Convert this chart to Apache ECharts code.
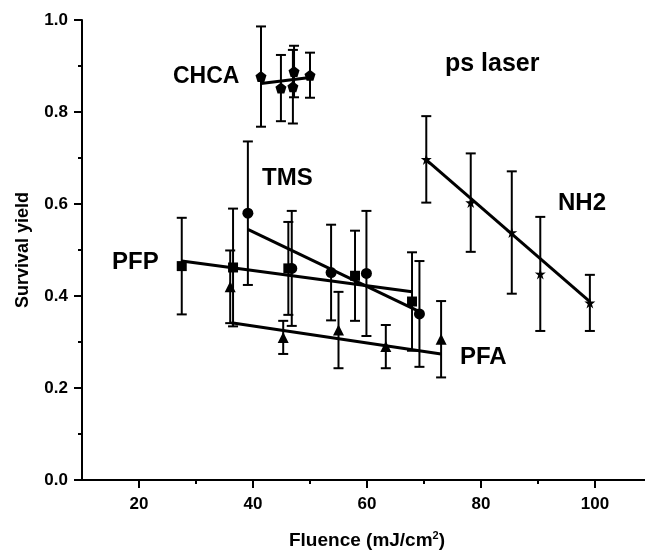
<!DOCTYPE html>
<html>
<head>
<meta charset="utf-8">
<script src="https://cdn.jsdelivr.net/npm/echarts@6/dist/echarts.min.js"></script>
<style>
html,body{margin:0;padding:0;background:#fff;}
#chart{width:645px;height:550px;}
</style>
</head>
<body>
<div id="chart"></div>
<script>
// ---- Data ----
const chcaX = [41.4, 44.9, 47.0, 47.2, 50.0];
const chcaY = [0.877, 0.852, 0.855, 0.888, 0.880];
const chcaErr = [0.109, 0.072, 0.080, 0.056, 0.049];

const pfpX = [27.5, 36.5, 46.2, 57.9, 67.9];
const pfpY = [0.465, 0.462, 0.460, 0.444, 0.388];
const pfpErr = [0.105, 0.128, 0.101, 0.098, 0.107];

const tmsX = [39.1, 46.8, 53.7, 59.9, 69.2];
const tmsY = [0.580, 0.460, 0.451, 0.449, 0.361];
const tmsErr = [0.156, 0.125, 0.104, 0.136, 0.115];

const pfaX = [36.0, 45.3, 55.0, 63.3, 73.0];
const pfaY = [0.420, 0.310, 0.326, 0.290, 0.306];
const pfaErr = [0.079, 0.036, 0.083, 0.047, 0.083];

const nh2X = [70.4, 78.2, 85.4, 90.4, 99.1];
const nh2Y = [0.697, 0.603, 0.538, 0.448, 0.385];
const nh2Err = [0.094, 0.107, 0.133, 0.124, 0.061];

// linear fit lines (end points)
const chcaFitX = [41.4, 50.0], chcaFitY = [0.862, 0.875];
const pfpFitX = [27.5, 67.9], pfpFitY = [0.476, 0.409];
const tmsFitX = [39.1, 69.2], tmsFitY = [0.545, 0.366];
const pfaFitX = [36.2, 73.0], pfaFitY = [0.342, 0.274];
const nh2FitX = [70.4, 99.1], nh2FitY = [0.696, 0.388];

const xMajorTicks = [20, 40, 60, 80, 100];
const xMinorTicks = [30, 50, 70, 90];
const xAxisTitle = 'Fluence (mJ/cm{sup|2})';
const yAxisTitle = 'Survival yield';

// ---- Build ----
const FONT = '"Liberation Sans", Arial, Helvetica, sans-serif';
const pentagon = 'path://M0,-1 L0.951,-0.309 L0.588,0.809 L-0.588,0.809 L-0.951,-0.309 Z';
const star = 'path://M0,-1 L0.2234,-0.3074 L0.9511,-0.309 L0.3614,0.1174 L0.5878,0.809 L0,0.38 L-0.5878,0.809 L-0.3614,0.1174 L-0.9511,-0.309 L-0.2234,-0.3074 Z';

function zip(xs, ys, es) { return xs.map((x, i) => es ? [x, ys[i], es[i]] : [x, ys[i]]); }

function errSeries(xs, ys, es) {
  return {
    type: 'custom', xAxisIndex: 0, yAxisIndex: 0, z: 2,
    data: zip(xs, ys, es),
    encode: { x: 0, y: 1 },
    renderItem: function (params, api) {
      const x = api.value(0), y = api.value(1), e = api.value(2);
      const t = api.coord([x, y + e]);
      const b = api.coord([x, y - e]);
      const hw = 5;
      const st = { stroke: '#000', lineWidth: 2 };
      return {
        type: 'group',
        children: [
          { type: 'line', shape: { x1: t[0], y1: t[1], x2: b[0], y2: b[1] }, style: st },
          { type: 'line', shape: { x1: t[0] - hw, y1: t[1], x2: t[0] + hw, y2: t[1] }, style: st },
          { type: 'line', shape: { x1: b[0] - hw, y1: b[1], x2: b[0] + hw, y2: b[1] }, style: st }
        ]
      };
    }
  };
}
function fitSeries(xs, ys) {
  return {
    type: 'line', xAxisIndex: 0, yAxisIndex: 0, z: 3,
    data: zip(xs, ys), symbol: 'none', silent: true,
    lineStyle: { color: '#000', width: 3 }
  };
}
function markSeries(xs, ys, sym, size) {
  return {
    type: 'scatter', xAxisIndex: 0, yAxisIndex: 0, z: 4,
    data: zip(xs, ys), symbol: sym, symbolSize: size,
    itemStyle: { color: '#000', opacity: 1 }
  };
}

const chart = echarts.init(document.getElementById('chart'), null, { renderer: 'canvas' });
function txt(t, x, y, size) {
  return { type: 'text', x: x, y: y, z: 10, style: { text: t, font: 'bold ' + size + 'px ' + FONT, fill: '#000', verticalAlign: 'middle', align: 'left' } };
}

chart.setOption({
  animation: false,
  backgroundColor: '#fff',
  grid: { left: 82, top: 20, bottom: 70, right: -7, containLabel: false, outerBoundsMode: 'none' },
  xAxis: [{
    type: 'value', min: 10, max: 110,
    name: xAxisTitle, nameLocation: 'middle', nameGap: 50,
    nameTextStyle: { fontFamily: FONT, fontWeight: 'bold', fontSize: 19, color: '#000',
      rich: { sup: { fontFamily: FONT, fontWeight: 'bold', fontSize: 11, color: '#000', padding: [0, 0, 10, 0] } } },
    axisLine: { show: true, onZero: false, lineStyle: { color: '#000', width: 2 } },
    axisTick: { show: true, length: 8, customValues: xMajorTicks, lineStyle: { color: '#000', width: 2 } },
    axisLabel: { customValues: xMajorTicks, margin: 16, fontFamily: FONT, fontWeight: 'bold', fontSize: 17, color: '#000' },
    splitLine: { show: false }
  }, {
    type: 'value', min: 10, max: 110, position: 'bottom', offset: 0,
    axisLine: { show: false },
    axisTick: { show: true, length: 4, customValues: xMinorTicks, lineStyle: { color: '#000', width: 2 } },
    axisLabel: { show: false },
    splitLine: { show: false }
  }],
  yAxis: [{
    type: 'value', min: 0, max: 1, interval: 0.2,
    name: yAxisTitle, nameLocation: 'middle', nameGap: 50, nameRotate: 90,
    nameTextStyle: { fontFamily: FONT, fontWeight: 'bold', fontSize: 18, color: '#000' },
    axisLine: { show: true, onZero: false, lineStyle: { color: '#000', width: 2 } },
    axisTick: { show: true, length: 8, lineStyle: { color: '#000', width: 2 } },
    minorTick: { show: true, splitNumber: 2, length: 4, lineStyle: { color: '#000', width: 2 } },
    axisLabel: { margin: 14, fontFamily: FONT, fontWeight: 'bold', fontSize: 17, color: '#000', formatter: v => v.toFixed(1) },
    splitLine: { show: false }, minorSplitLine: { show: false }
  }],
  graphic: [
    txt('CHCA', 173, 77, 23),
    txt('ps laser', 445, 64, 25),
    txt('TMS', 262, 178, 24),
    txt('NH2', 558, 203, 24),
    txt('PFP', 112, 262, 24),
    txt('PFA', 460, 357, 24)
  ],
  series: [
    errSeries(chcaX, chcaY, chcaErr),
    errSeries(pfpX, pfpY, pfpErr),
    errSeries(tmsX, tmsY, tmsErr),
    errSeries(pfaX, pfaY, pfaErr),
    errSeries(nh2X, nh2Y, nh2Err),
    fitSeries(chcaFitX, chcaFitY),
    fitSeries(pfpFitX, pfpFitY),
    fitSeries(tmsFitX, tmsFitY),
    fitSeries(pfaFitX, pfaFitY),
    fitSeries(nh2FitX, nh2FitY),
    markSeries(chcaX, chcaY, pentagon, 11),
    markSeries(pfpX, pfpY, 'rect', 10),
    markSeries(tmsX, tmsY, 'circle', 11),
    markSeries(pfaX, pfaY, 'triangle', 11),
    markSeries(nh2X, nh2Y, star, 11)
  ]
});
</script>
</body>
</html>
